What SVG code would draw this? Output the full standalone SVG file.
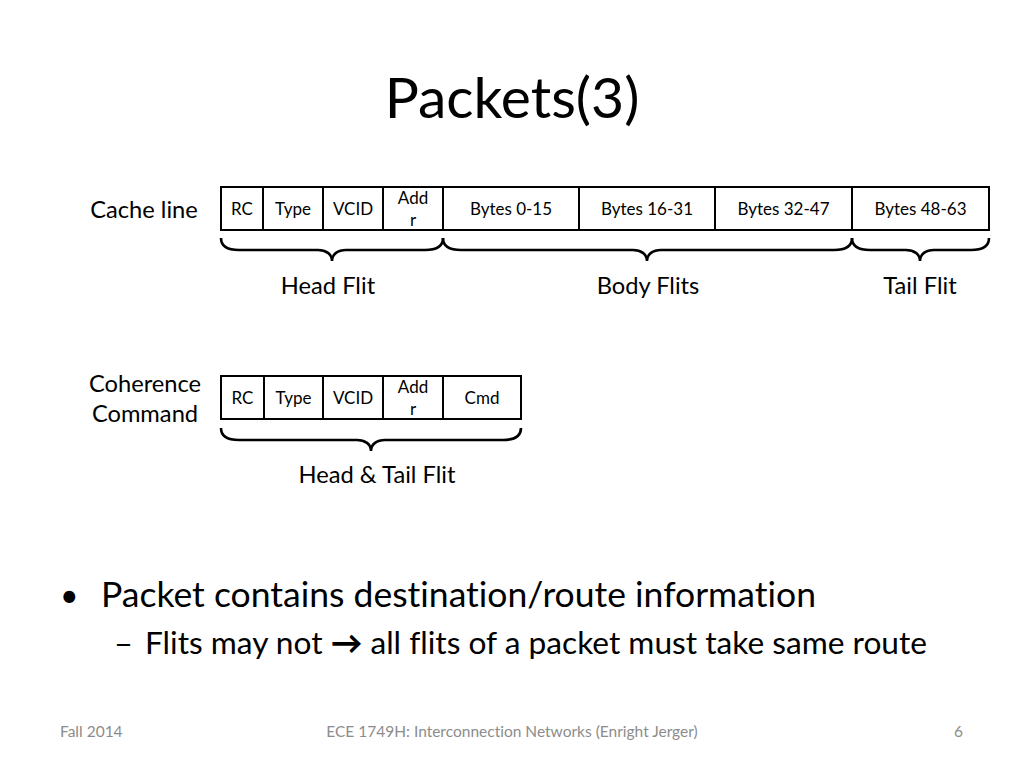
<svg xmlns="http://www.w3.org/2000/svg" width="1024" height="768" viewBox="0 0 1024 768">
<style>
text{font-family:Lato,"Open Sans","Liberation Sans",sans-serif;fill:#000;font-variant-ligatures:none}
.cell{fill:#fff;stroke:#000;stroke-width:2}
.ct{font-size:17px;text-anchor:middle}
.lbl{font-size:23.7px;text-anchor:middle}
.brace{fill:none;stroke:#000;stroke-width:2.6}
.foot{font-size:15.5px;fill:#8c8c8c}
</style>
<rect width="1024" height="768" fill="#fff"/>
<text x="512" y="118" font-size="57" text-anchor="middle">Packets(3)</text>

<g id="cache-line">
<text class="lbl" x="144" y="218">Cache line</text>
<rect class="cell" x="221" y="187" width="42" height="43"/>
<rect class="cell" x="263" y="187" width="60" height="43"/>
<rect class="cell" x="323" y="187" width="60" height="43"/>
<rect class="cell" x="383" y="187" width="60" height="43"/>
<rect class="cell" x="443" y="187" width="136" height="43"/>
<rect class="cell" x="579" y="187" width="136" height="43"/>
<rect class="cell" x="715" y="187" width="137" height="43"/>
<rect class="cell" x="852" y="187" width="137" height="43"/>
<text class="ct" x="242" y="215">RC</text>
<text class="ct" x="293" y="215">Type</text>
<text class="ct" x="353" y="215">VCID</text>
<text class="ct" x="413" y="204">Add</text>
<text class="ct" x="413" y="226">r</text>
<text class="ct" x="511" y="215">Bytes 0-15</text>
<text class="ct" x="647" y="215">Bytes 16-31</text>
<text class="ct" x="783.5" y="215">Bytes 32-47</text>
<text class="ct" x="920.5" y="215">Bytes 48-63</text>
</g>

<g id="cache-braces">
<path class="brace" d="M221 238 C221 246 227 250 239 250 L318 250 C326 250 332 254 332 261 C332 254 338 250 346 250 L425 250 C437 250 443 246 443 238"/>
<path class="brace" d="M443 238 C443 246 449 250 461 250 L633 250 C641 250 647 254 647 261 C647 254 653 250 661 250 L834 250 C846 250 852 246 852 238"/>
<path class="brace" d="M852 238 C852 246 858 250 870 250 L906 250 C914 250 920 254 920 261 C920 254 926 250 934 250 L971 250 C983 250 989 246 989 238"/>
<text class="lbl" x="328" y="294">Head Flit</text>
<text class="lbl" x="648" y="294">Body Flits</text>
<text class="lbl" x="920" y="294">Tail Flit</text>
</g>

<g id="coherence-command">
<text class="lbl" x="145" y="392">Coherence</text>
<text class="lbl" x="145" y="422">Command</text>
<rect class="cell" x="221" y="376" width="43" height="43"/>
<rect class="cell" x="264" y="376" width="59" height="43"/>
<rect class="cell" x="323" y="376" width="60" height="43"/>
<rect class="cell" x="383" y="376" width="60" height="43"/>
<rect class="cell" x="443" y="376" width="78" height="43"/>
<text class="ct" x="242.5" y="404">RC</text>
<text class="ct" x="293.5" y="404">Type</text>
<text class="ct" x="353" y="404">VCID</text>
<text class="ct" x="413" y="393">Add</text>
<text class="ct" x="413" y="415">r</text>
<text class="ct" x="482" y="404">Cmd</text>
</g>

<g id="coherence-brace">
<path class="brace" d="M221 428 C221 436 227 440 239 440 L357 440 C365 440 371 444 371 451 C371 444 377 440 385 440 L503 440 C515 440 521 436 521 428"/>
<text class="lbl" x="377" y="483">Head &amp; Tail Flit</text>
</g>

<g id="bullets">
<text x="60" y="607" font-size="32">•</text>
<text x="101" y="607" font-size="35" textLength="715" lengthAdjust="spacingAndGlyphs">Packet contains destination/route information</text>
<text x="114" y="654" font-size="30" textLength="19" lengthAdjust="spacingAndGlyphs">–</text>
<text x="145" y="654" font-size="31" textLength="782" lengthAdjust="spacingAndGlyphs">Flits may not <tspan font-weight="900">→</tspan> all flits of a packet must take same route</text>
</g>

<g id="footer">
<text class="foot" x="60" y="737">Fall 2014</text>
<text class="foot" x="512" y="737" text-anchor="middle">ECE 1749H: Interconnection Networks (Enright Jerger)</text>
<text class="foot" x="963" y="737" text-anchor="end">6</text>
</g>
</svg>
